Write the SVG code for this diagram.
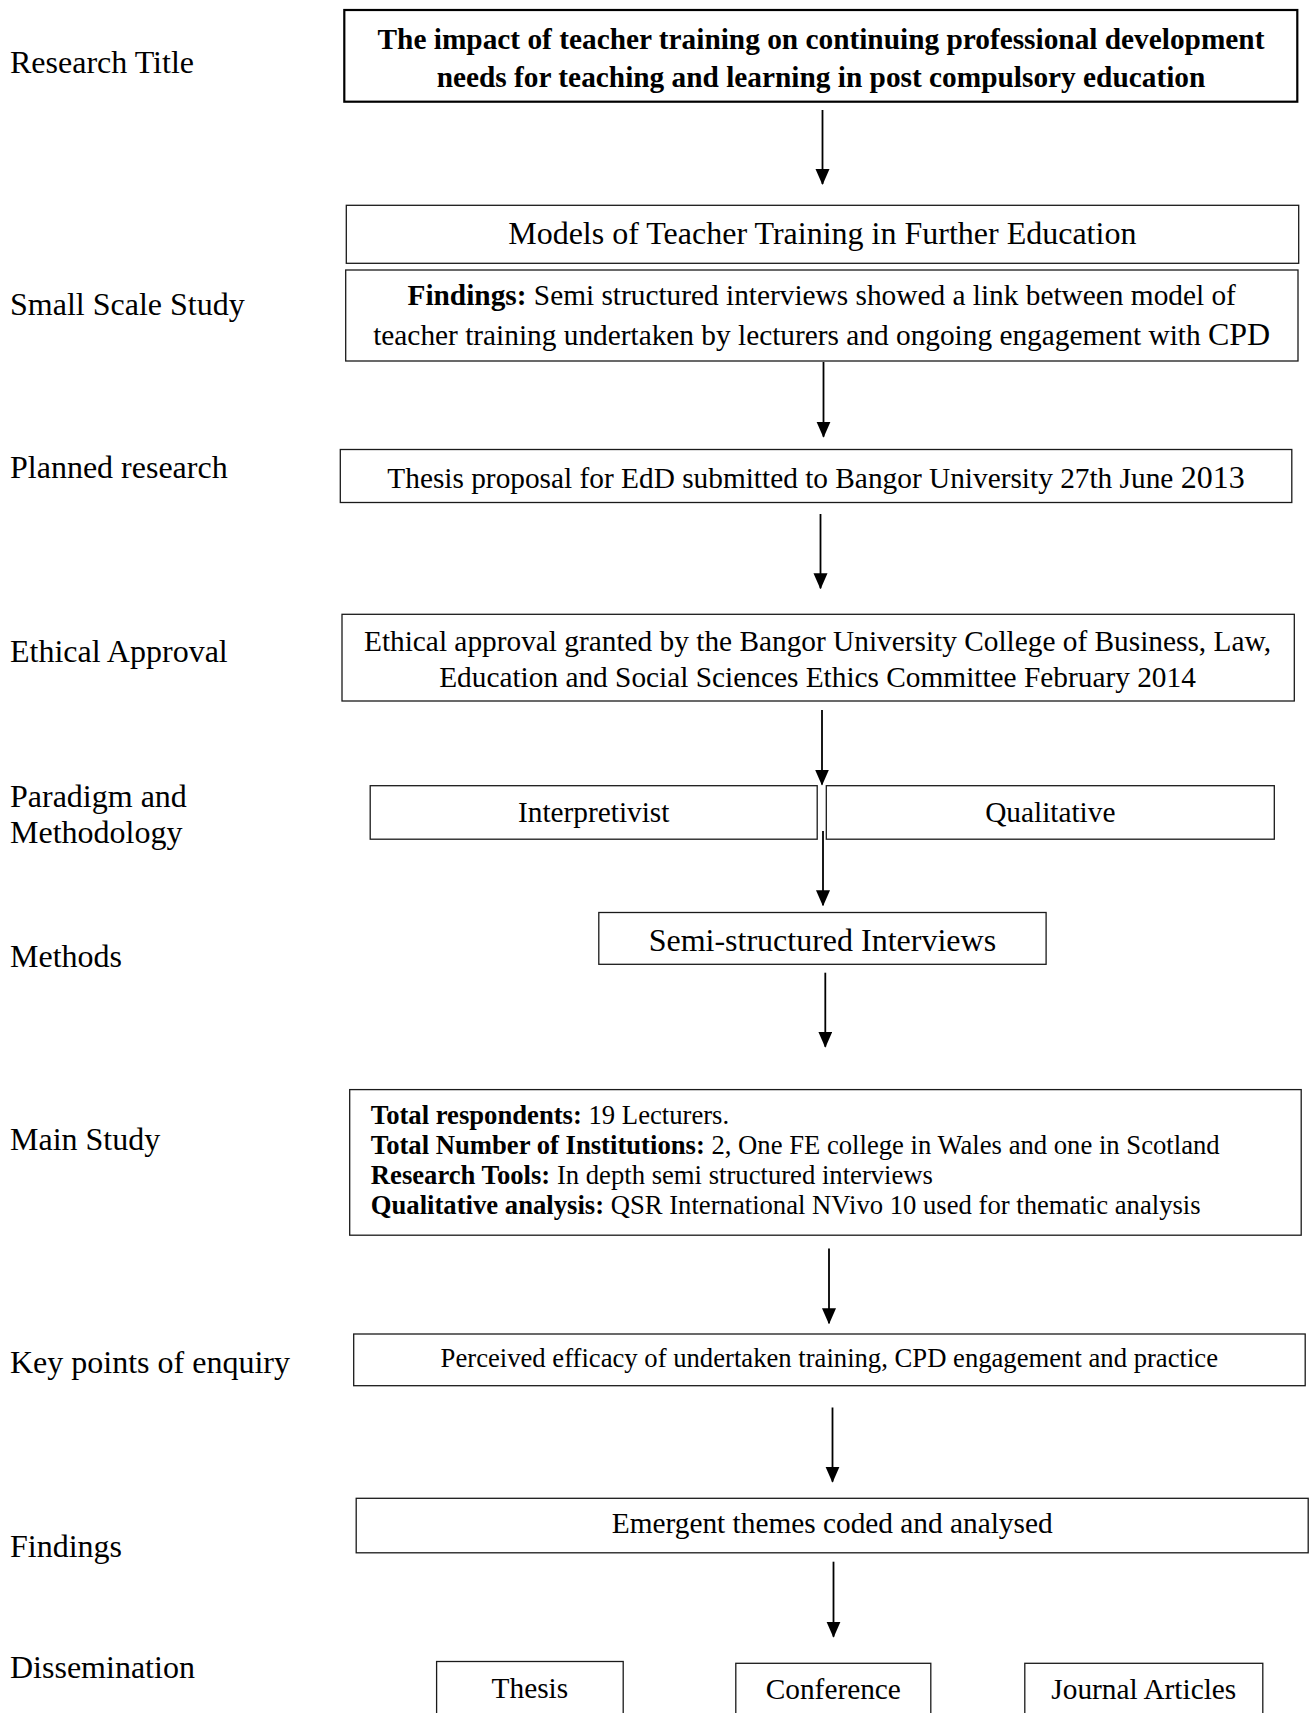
<svg xmlns="http://www.w3.org/2000/svg" width="1311" height="1713" viewBox="0 0 1311 1713">
  <style>
    text { font-family: "Liberation Serif", "Times New Roman", serif; fill: #000; }
    .lbl { font-size: 32px; }
    .t22 { font-size: 29.33px; }
    .t24 { font-size: 32px; }
    .t20 { font-size: 26.67px; }
    .b { font-weight: bold; }
    .mid { text-anchor: middle; }
    .box { fill: #fff; stroke: #1a1a1a; stroke-width: 1.3; }
    .box-strong { fill: #fff; stroke: #000; stroke-width: 2.2; }
    .conn line { stroke: #000; stroke-width: 1.8; }
  </style>
  <defs>
    <marker id="arrow" markerUnits="userSpaceOnUse" markerWidth="16" markerHeight="16" refX="15" refY="7" orient="auto">
      <path d="M0,0 L16,7 L0,14 Z" fill="#000"/>
    </marker>
  </defs>

  <rect x="0" y="0" width="1311" height="1713" fill="#fff"/>

  <!-- Stage labels on the left -->
  <g id="labels">
    <text class="lbl" x="10" y="72.7">Research Title</text>
    <text class="lbl" x="10" y="315">Small Scale Study</text>
    <text class="lbl" x="10" y="478.3">Planned research</text>
    <text class="lbl" x="10" y="661.7">Ethical Approval</text>
    <text class="lbl" x="10" y="806.7">Paradigm and</text>
    <text class="lbl" x="10" y="843.3">Methodology</text>
    <text class="lbl" x="10" y="967.3">Methods</text>
    <text class="lbl" x="10" y="1150">Main Study</text>
    <text class="lbl" x="10" y="1372.7">Key points of enquiry</text>
    <text class="lbl" x="10" y="1556.7">Findings</text>
    <text class="lbl" x="10" y="1678.3">Dissemination</text>
  </g>

  <!-- Connectors -->
  <g id="connectors" class="conn">
    <line x1="822.5" y1="110" x2="822.5" y2="184" marker-end="url(#arrow)"/>
    <line x1="823.5" y1="362" x2="823.5" y2="436.7" marker-end="url(#arrow)"/>
    <line x1="820.5" y1="514" x2="820.5" y2="588.3" marker-end="url(#arrow)"/>
    <line x1="822" y1="710" x2="822" y2="784.5" marker-end="url(#arrow)"/>
    <line x1="823" y1="831" x2="823" y2="905.3" marker-end="url(#arrow)"/>
    <line x1="825.3" y1="972.7" x2="825.3" y2="1046.7" marker-end="url(#arrow)"/>
    <line x1="829" y1="1248.5" x2="829" y2="1323.3" marker-end="url(#arrow)"/>
    <line x1="832.5" y1="1407.5" x2="832.5" y2="1481.7" marker-end="url(#arrow)"/>
    <line x1="833.5" y1="1561.7" x2="833.5" y2="1636.7" marker-end="url(#arrow)"/>
  </g>

  <g id="node-title">
    <rect class="box-strong" x="344.3" y="10" width="953" height="91.7"/>
    <text class="t22 b mid" x="821" y="49">The impact of teacher training on continuing professional development</text>
    <text class="t22 b mid" x="821" y="87.3">needs for teaching and learning in post compulsory education</text>
  </g>

  <g id="node-models">
    <rect class="box" x="346.3" y="205.3" width="952.4" height="58"/>
    <text class="t24 mid" x="822.3" y="244.3">Models of Teacher Training in Further Education</text>
  </g>

  <g id="node-small-study">
    <rect class="box" x="345.7" y="270" width="952.3" height="91"/>
    <text class="t22 mid" x="821.7" y="305"><tspan class="b">Findings:</tspan> Semi structured interviews showed a link between model of</text>
    <text class="t22 mid" x="821.7" y="345">teacher training undertaken by lecturers and ongoing engagement with <tspan class="t24">CPD</tspan></text>
  </g>

  <g id="node-proposal">
    <rect class="box" x="340.3" y="449.5" width="951.5" height="53"/>
    <text class="t22 mid" x="816" y="488.3">Thesis proposal for EdD submitted to Bangor University 27th June <tspan class="t24">2013</tspan></text>
  </g>

  <g id="node-ethics">
    <rect class="box" x="342" y="614.3" width="952.3" height="86.7"/>
    <text class="t22 mid" x="817.5" y="650.7">Ethical approval granted by the Bangor University College of Business, Law,</text>
    <text class="t22 mid" x="817.5" y="686.7">Education and Social Sciences Ethics Committee February 2014</text>
  </g>

  <g id="node-interpretivist">
    <rect class="box" x="370.2" y="785.7" width="447" height="53.5"/>
    <text class="t22 mid" x="593.7" y="821.7">Interpretivist</text>
  </g>

  <g id="node-qualitative">
    <rect class="box" x="826.3" y="785.7" width="448" height="53.5"/>
    <text class="t22 mid" x="1050.3" y="821.7">Qualitative</text>
  </g>

  <g id="node-interviews">
    <rect class="box" x="598.8" y="912.5" width="447.3" height="51.8"/>
    <text class="t24 mid" x="822.4" y="950.7">Semi-structured Interviews</text>
  </g>

  <g id="node-main-study">
    <rect class="box" x="349.7" y="1089.6" width="951.5" height="145.6"/>
    <text class="t20" x="370.8" y="1124"><tspan class="b">Total respondents:</tspan> 19 Lecturers.</text>
    <text class="t20" x="370.8" y="1154"><tspan class="b">Total Number of Institutions:</tspan> 2, One FE college in Wales and one in Scotland</text>
    <text class="t20" x="370.8" y="1184"><tspan class="b">Research Tools:</tspan> In depth semi structured interviews</text>
    <text class="t20" x="370.8" y="1214"><tspan class="b">Qualitative analysis:</tspan> QSR International NVivo 10 used for thematic analysis</text>
  </g>

  <g id="node-key-points">
    <rect class="box" x="353.7" y="1334" width="951.5" height="51.7"/>
    <text class="t20 mid" x="829.3" y="1366.7">Perceived efficacy of undertaken training, CPD engagement and practice</text>
  </g>

  <g id="node-themes">
    <rect class="box" x="356.2" y="1498.3" width="952" height="54.5"/>
    <text class="t22 mid" x="832.2" y="1533.3">Emergent themes coded and analysed</text>
  </g>

  <g id="node-thesis">
    <rect class="box" x="436.6" y="1661.5" width="186.6" height="70"/>
    <text class="t22 mid" x="529.9" y="1698.3">Thesis</text>
  </g>

  <g id="node-conference">
    <rect class="box" x="735.8" y="1663.3" width="195" height="70"/>
    <text class="t22 mid" x="833.3" y="1699">Conference</text>
  </g>

  <g id="node-journal">
    <rect class="box" x="1024.8" y="1663.3" width="238" height="70"/>
    <text class="t22 mid" x="1143.8" y="1699">Journal Articles</text>
  </g>
</svg>
